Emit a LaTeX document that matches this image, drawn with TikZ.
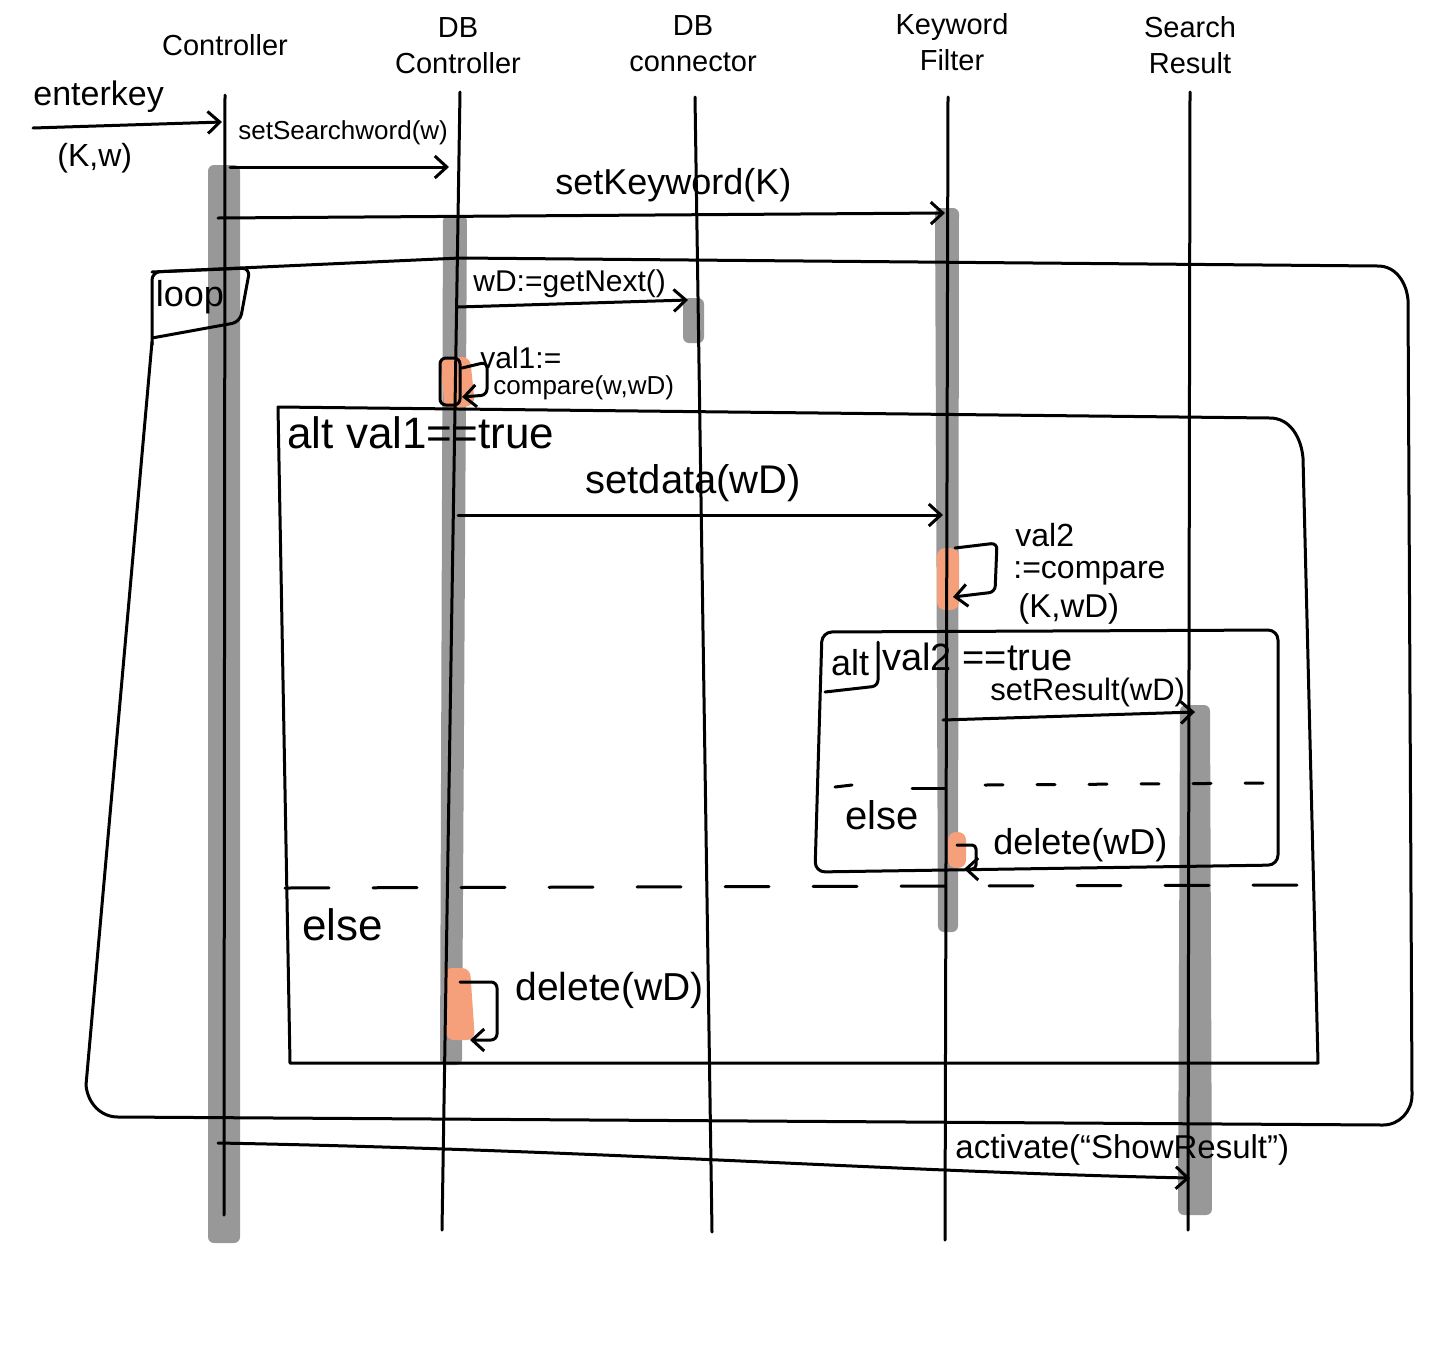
\documentclass[tikz,border=0pt]{standalone}
\usepackage{fontspec}
\setmainfont{Liberation Sans}
\usetikzlibrary{arrows.meta}
\definecolor{actgray}{RGB}{152,152,152}
\definecolor{selfcall}{RGB}{245,160,122}
\newcommand{\fs}[1]{\fontsize{#1}{#1}\selectfont}
\begin{document}
\begin{tikzpicture}[x=0.5pt,y=-0.5pt,
  ink/.style={line width=1.5pt, line cap=round, line join=round},
  msg/.style={ink, -{Straight Barb[length=6pt,width=11pt,line width=1.5pt]}},
  actbar/.style={fill=actgray, draw=none, rounded corners=3pt},
  selfbar/.style={fill=selfcall, draw=none, rounded corners=4pt},
  head/.style={align=center, font=\fontsize{14.5}{18}\selectfont, inner sep=0pt},
  lbl/.style={inner sep=0pt, anchor=west}]
\useasboundingbox (0,0) rectangle (1440,1366);

% lifeline end points
\coordinate (ctl-t) at (225,95);   \coordinate (ctl-b) at (224,1215);
\coordinate (dbc-t) at (460,92);   \coordinate (dbc-b) at (442,1230);
\coordinate (dbn-t) at (695,97);   \coordinate (dbn-b) at (712,1232);
\coordinate (kwf-t) at (948,97);   \coordinate (kwf-b) at (945,1240);
\coordinate (srs-t) at (1190,92);  \coordinate (srs-b) at (1188,1230);

% activation bars
\path[actbar] (208,165) rectangle (240,1243);
\path[actbar] (443,215) -- (467,215) -- (462,1065) -- (440,1065) -- cycle;
\path[actbar] (683,298) rectangle (704,343);
\path[actbar] (935,208) -- (959,208) -- (958,932) -- (938,932) -- cycle;
\path[actbar] (1180,705) -- (1210,705) -- (1212,1215) -- (1178,1215) -- cycle;

% self-call bars
\path[selfbar] (440,357) -- (470,357) -- (475,405) -- (445,410) -- cycle;
\path[selfbar] (937,548) rectangle (959,610);
\path[selfbar] (948,832) rectangle (966,868);
\path[selfbar] (444,968) -- (470,968) -- (475,1040) -- (446,1040) -- cycle;

% lifelines
\foreach \l in {ctl,dbc,dbn,kwf,srs} \draw[ink] (\l-t) -- (\l-b);

% participants
\node[head] (h-ctl) at (225,45) {Controller};
\node[head] (h-dbc) at (458,46) {DB\\Controller};
\node[head] (h-dbn) at (693,44) {DB\\connector};
\node[head] (h-kwf) at (952,42) {Keyword\\Filter};
\node[head] (h-srs) at (1190,45) {Search\\Result};

% incoming call
\coordinate (ek-s) at (33,128); \coordinate (ek-e) at (222,122);
\draw[msg] (ek-s) -- (ek-e);
\node[lbl, font=\fs{17}] (ek-l) at (33,97) {enterkey};
\node[lbl, font=\fs{16}] (ek-p) at (57,158) {(K,w)};

% setSearchword
\coordinate (sw-s) at (230,167); \coordinate (sw-e) at (449,167);
\draw[msg] (sw-s) -- (sw-e);
\node[lbl, font=\fs{13}] (sw-l) at (238,133) {setSearchword(w)};

% setKeyword
\coordinate (kw-s) at (218,218); \coordinate (kw-e) at (945,213);
\draw[msg] (kw-s) -- (kw-e);
\node[lbl, font=\fs{18}] (kw-l) at (555,185) {setKeyword(K)};

% loop fragment
\draw[ink] (152,272) -- (460,258) -- (1378,266) to[out=0,in=95] (1408,300)
  -- (1412,1095) to[out=-90,in=0] (1383,1125) -- (118,1117)
  to[out=180,in=-85] (86,1085) -- (152,342);
\draw[ink, rounded corners=4pt] (152,345) -- (152,272) -- (250,268) -- (240,322) -- (152,338);
\node[font=\fs{18}, inner sep=0pt] (lp-l) at (190,297) {loop};

% getNext
\coordinate (gn-s) at (458,307); \coordinate (gn-e) at (688,300);
\draw[msg] (gn-s) -- (gn-e);
\node[lbl, font=\fs{15}] (gn-l) at (473,284) {wD:=getNext()};

% val1 self call
\draw[ink, rounded corners=3pt] (440,358) rectangle (460,405);
\coordinate (v1-s) at (462,368); \coordinate (v1-e) at (462,397);
\draw[msg, rounded corners=3pt] (v1-s) -- (487,362) -- (487,395) -- (v1-e);
\node[lbl, font=\fs{15}] (v1-a) at (480,358) {val1:=};
\node[lbl, font=\fs{13}] (v1-b) at (493,388) {compare(w,wD)};

% outer alt fragment
\draw[ink] (290,1063) -- (278,407) -- (1270,418) to[out=0,in=95] (1303,458)
  -- (1318,1063) -- cycle;
\node[lbl, font=\fs{22}] (a1-l) at (287,433) {alt val1==true};

% setdata
\coordinate (sd-s) at (458,515); \coordinate (sd-e) at (943,515);
\draw[msg] (sd-s) -- (sd-e);
\node[lbl, font=\fs{20}] (sd-l) at (585,483) {setdata(wD)};

% val2 self call
\coordinate (v2-s) at (955,548); \coordinate (v2-e) at (953,597);
\draw[msg, rounded corners=3pt] (v2-s) -- (997,543) -- (995,592) -- (v2-e);
\node[lbl, font=\fs{16}] (v2-a) at (1015,535) {val2};
\node[lbl, font=\fs{16}] (v2-b) at (1013,573) {:=compare};
\node[lbl, font=\fs{16.5}] (v2-c) at (1018,609) {(K,wD)};

% inner alt fragment
\draw[ink, rounded corners=5pt] (822,632) -- (1278,630) -- (1278,865) -- (815,872) -- cycle;
\draw[ink, rounded corners=3pt] (878,642) -- (878,686) -- (825,692);
\node[font=\fs{18}, inner sep=0pt] (a2-t) at (850,663) {alt};
\node[lbl, font=\fs{19}] (a2-l) at (882,657) {val2 ==true};

% setResult
\coordinate (sr-s) at (943,720); \coordinate (sr-e) at (1195,712);
\draw[msg] (sr-s) -- (sr-e);
\node[lbl, font=\fs{15.5}] (sr-l) at (990,692) {setResult(wD)};

% inner else
\draw[ink, dash pattern=on 9pt off 17pt] (985,785) -- (1278,783);
\draw[ink] (912,788) -- (945,788);
\draw[ink] (835,787) -- (852,785);
\node[lbl, font=\fs{20}] (e2-l) at (845,815) {else};
\coordinate (d2-s) at (957,845); \coordinate (d2-e) at (964,869);
\draw[msg, rounded corners=2pt] (d2-s) -- (976,845) -- (976,869) -- (d2-e);
\node[lbl, font=\fs{18}] (d2-l) at (993,845) {delete(wD)};

% outer else
\draw[ink, dash pattern=on 22pt off 22pt] (285,888) -- (1325,885);
\node[lbl, font=\fs{22}] (e1-l) at (302,925) {else};
\coordinate (d1-s) at (460,982); \coordinate (d1-e) at (470,1040);
\draw[msg, rounded corners=3pt] (d1-s) -- (497,982) -- (497,1040) -- (d1-e);
\node[lbl, font=\fs{19.5}] (d1-l) at (515,990) {delete(wD)};

% activate
\coordinate (ac-s) at (218,1143); \coordinate (ac-e) at (1190,1178);
\draw[msg] (ac-s) .. controls (600,1150) and (900,1172) .. (ac-e);
\node[lbl, font=\fs{16.5}] (ac-l) at (955,1150) {activate(“ShowResult”)};
\end{tikzpicture}
\end{document}
